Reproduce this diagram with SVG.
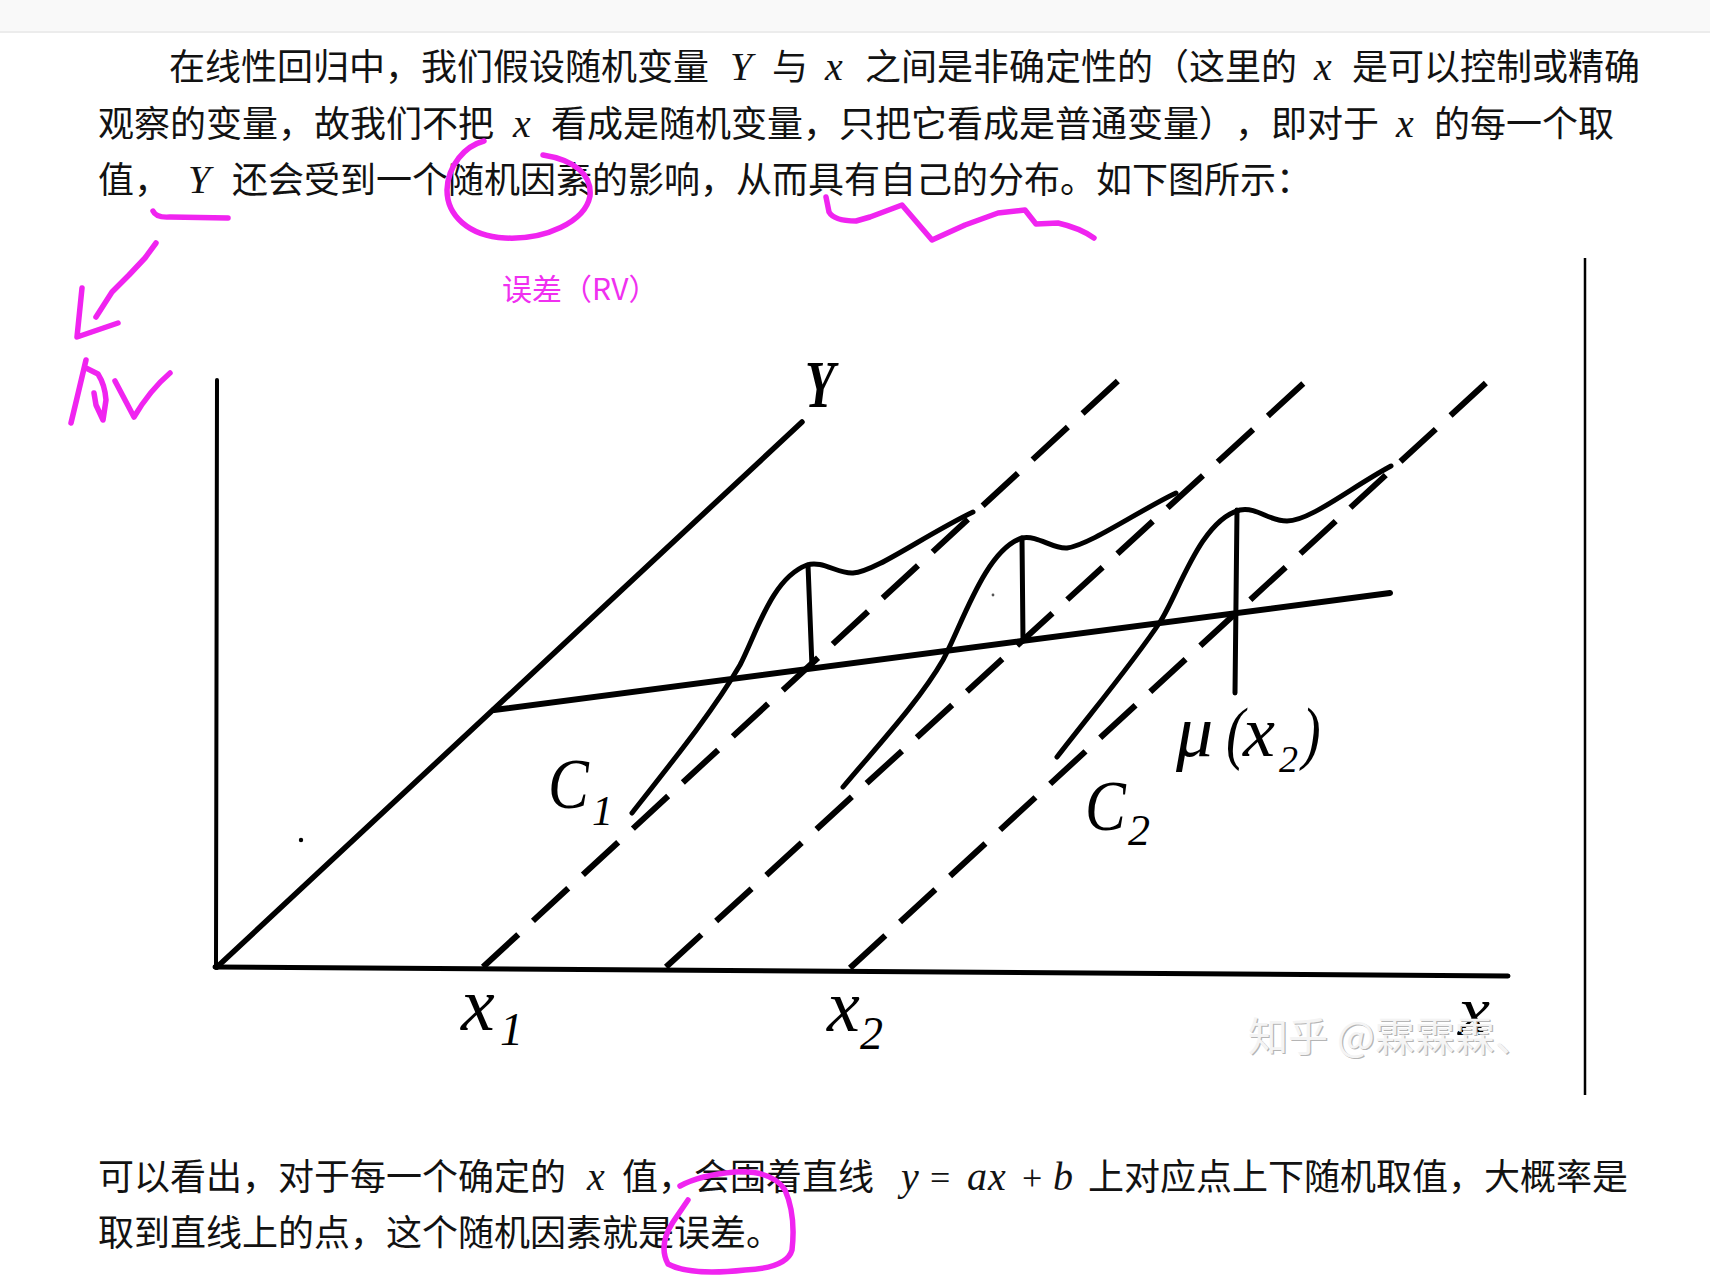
<svg xmlns="http://www.w3.org/2000/svg" width="1710" height="1285" viewBox="0 0 1710 1285">
<style>
.cjk{font-family:"Noto Sans CJK SC","Noto Sans",sans-serif;font-size:36px;fill:#121212;text-spacing-trim:space-all}
.m{font-family:"Liberation Serif","DejaVu Serif",serif;font-style:italic;font-size:40px;fill:#121212}
.op{font-family:"Liberation Serif","DejaVu Serif",serif;font-size:36px;fill:#121212}
.ink{stroke:#000;fill:none;stroke-linecap:round;stroke-linejoin:round}
.dash{stroke-dasharray:48 20;stroke-width:6;stroke-linecap:butt}
.lab{font-family:"Liberation Serif","DejaVu Serif",serif;font-style:italic;fill:#000}
.pen{stroke:#f024f0;stroke-width:5.5;fill:none;stroke-linecap:round;stroke-linejoin:round}
.wm{font-family:"Noto Sans CJK SC","Noto Sans",sans-serif;font-size:40px}
</style>
<rect x="0" y="0" width="1710" height="1285" fill="#ffffff"/>
<g id="topbar">
<rect x="0" y="0" width="1710" height="31" fill="#f9f9f9"/>
<rect x="0" y="31" width="1710" height="2" fill="#ececec"/>
</g>
<g id="para1">
<text class="cjk" x="169" y="80">在线性回归中，我们假设随机变量</text>
<text class="m" x="730" y="80">Y</text>
<text class="cjk" x="772" y="80">与</text>
<text class="m" x="825" y="80">x</text>
<text class="cjk" x="865" y="80">之间是非确定性的（这里的</text>
<text class="m" x="1314" y="80">x</text>
<text class="cjk" x="1352" y="80">是可以控制或精确</text>
<text class="cjk" x="98" y="136.5">观察的变量，故我们不把</text>
<text class="m" x="513" y="136.5">x</text>
<text class="cjk" x="551" y="136.5">看成是随机变量，只把它看成是普通变量）</text>
<text class="cjk" x="1235" y="136.5">，即对于</text>
<text class="m" x="1396" y="136.5">x</text>
<text class="cjk" x="1434" y="136.5">的每一个取</text>
<text class="cjk" x="98" y="193">值，</text>
<text class="m" x="188" y="193">Y</text>
<text class="cjk" x="232" y="193">还会受到一个随机因素的影响，从而具有自己的分布。如下图所示：</text>
</g>
<g id="para2">
<text class="cjk" x="98" y="1190">可以看出，对于每一个确定的</text>
<text class="m" x="587" y="1190">x</text>
<text class="cjk" x="622" y="1190">值，会围着直线</text>
<text class="m" x="901" y="1190">y</text>
<text class="op" x="930" y="1190">=</text>
<text class="m" x="967" y="1190">a</text>
<text class="m" x="988" y="1190">x</text>
<text class="op" x="1022" y="1190">+</text>
<text class="m" x="1053" y="1190">b</text>
<text class="cjk" x="1088" y="1190">上对应点上下随机取值，大概率是</text>
<text class="cjk" x="98" y="1246">取到直线上的点，这个随机因素就是误差。</text>
</g>
<g id="diagram">
<g id="axes" class="ink">
<path d="M217,380 L216,968" stroke-width="4"/>
<path d="M215,967 L1508,976" stroke-width="5"/>
<path d="M217,967 L802,422" stroke-width="5.5"/>
</g>
<g id="regression" class="ink">
<path d="M494,710 L1390,593" stroke-width="6"/>
</g>
<g id="dashed" class="ink">
<path class="dash" d="M483,967 L1121,378"/>
<path class="dash" d="M666,967 L1305,382"/>
<path class="dash" d="M850,968 L1487,382"/>
</g>
<g id="curve1" class="ink" stroke-width="5">
<path d="M632,813 C680,752 715,708 740,665 C757,632 772,578 807,565 C822,560 838,574 853,573 C875,572 925,535 973,512"/>
<path d="M808,565 L812,667"/>
</g>
<g id="curve2" class="ink" stroke-width="5">
<path d="M843,787 C880,743 920,700 943,660 C962,625 985,550 1022,538 C1038,535 1052,549 1067,548 C1090,545 1140,510 1176,493"/>
<path d="M1022,538 L1023,641"/>
</g>
<g id="curve3" class="ink" stroke-width="5">
<path d="M1057,757 C1095,708 1135,660 1160,622 C1178,595 1200,520 1240,510 C1258,507 1268,521 1287,521 C1310,521 1350,488 1391,466"/>
<path d="M1237,510 L1235,693"/>
</g>
<g id="specks" fill="#000">
<circle cx="301" cy="840" r="2.2"/>
<circle cx="993" cy="595" r="1.4" fill="#555"/>
</g>
<g id="labels">
<text class="lab" transform="translate(805,407) scale(0.72,1)" font-size="68" font-style="normal" font-weight="bold">Y</text>
<text class="lab" transform="translate(548,808) scale(0.85,1)" font-size="72">C</text>
<text class="lab" x="592" y="825" font-size="42" font-style="normal">1</text>
<text class="lab" transform="translate(1085,830) scale(0.85,1)" font-size="72">C</text>
<text class="lab" x="1128" y="845" font-size="44" font-style="normal">2</text>
<text class="lab" x="1176" y="756" font-size="74">μ</text>
<text class="lab" transform="translate(1226,756) scale(0.8,1)" font-size="70" font-style="normal">(</text>
<text class="lab" x="1243" y="756" font-size="72">x</text>
<text class="lab" x="1279" y="772" font-size="38" font-style="normal">2</text>
<text class="lab" transform="translate(1302,756) scale(0.8,1)" font-size="70" font-style="normal">)</text>
<text class="lab" x="461" y="1030" font-size="76">x</text>
<text class="lab" x="500" y="1045" font-size="46" font-style="normal">1</text>
<text class="lab" x="827" y="1031" font-size="74">x</text>
<text class="lab" x="860" y="1049" font-size="46" font-style="normal">2</text>
<text class="lab" x="1458" y="1035" font-size="72">x</text>
</g>
<g id="watermark">
<text class="wm" x="1248" y="1051" fill="#b5b5b5" transform="translate(1.2,1.2)">知乎 @霖霖霖、</text>
<text class="wm" x="1248" y="1051" fill="#f4f4f4">知乎 @霖霖霖、</text>
</g>
<path id="frame-right" d="M1585,258 L1585,1095" stroke="#000" stroke-width="2.5"/>
</g>
<g id="annotations">
<path class="pen" d="M153,211 Q156,218 170,217 L228,218"/>
<path class="pen" d="M484,141 C465,146 448,165 447,190 C447,215 468,236 505,238 C545,240 585,222 590,196 C592,175 575,160 543,155"/>
<path class="pen" d="M826,197 L829,212 Q834,221 856,221 L870,217 L902,205 L932,240 L965,225 L998,213 L1025,210 L1036,224 L1058,223 Q1080,228 1094,238"/>
<path class="pen" d="M156,243 L145,258 L129,275 L112,292 L96,317"/>
<path class="pen" d="M82,288 L77,337 L118,323"/>
<path class="pen" d="M71,423 L77,398 L86,360 M86,368 L98,374 Q105,385 106,400 L103,420 L96,405 L94,393 M115,381 L134,417 Q150,390 170,373"/>
<text x="502" y="300" font-family="Noto Sans CJK SC, Noto Sans, sans-serif" font-size="30" fill="#f030f0">误差（RV）</text>
<path class="pen" d="M680,1186 Q700,1175 735,1172 Q772,1170 785,1190 Q796,1215 792,1250 Q787,1268 745,1270 Q690,1276 668,1264 Q658,1245 673,1222 L688,1200"/>
</g>
</svg>
